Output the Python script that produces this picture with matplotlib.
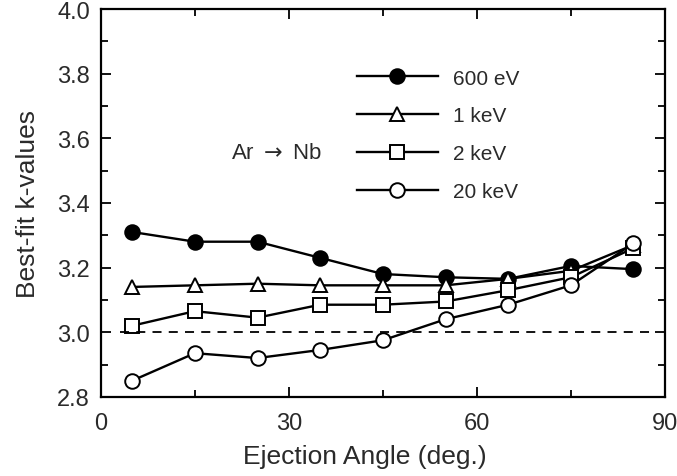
import matplotlib
matplotlib.use("Agg")
import matplotlib.pyplot as plt
from matplotlib.ticker import MultipleLocator

angles = [5, 15, 25, 35, 45, 55, 65, 75, 85]
k_600eV = [3.31, 3.28, 3.28, 3.23, 3.18, 3.17, 3.165, 3.205, 3.195]
k_1keV = [3.14, 3.145, 3.15, 3.145, 3.145, 3.145, 3.165, 3.19, 3.27]
k_2keV = [3.02, 3.065, 3.045, 3.085, 3.085, 3.095, 3.13, 3.17, 3.26]
k_20keV = [2.85, 2.935, 2.92, 2.945, 2.975, 3.04, 3.085, 3.145, 3.275]
series_labels = ["600 eV", "1 keV", "2 keV", "20 keV"]
ref_k = 3.0
ref_span = [3, 88]

plt.rcParams['font.family'] = ['Liberation Sans', 'DejaVu Sans']
fig = plt.figure(figsize=(6.77, 4.77), dpi=100)
ax = fig.add_axes([0.149, 0.166, 0.833, 0.813])

tc = '#2a2a2a'
styles = [
    dict(marker='o', mfc='black', mec='black'),
    dict(marker='^', mfc='white', mec='black'),
    dict(marker='s', mfc='white', mec='black'),
    dict(marker='o', mfc='white', mec='black'),
]
data = [k_600eV, k_1keV, k_2keV, k_20keV]
sizes = [10.5, 10.5, 9.5, 10.5]
for vals, st, lab, ms in zip(data, styles, series_labels, sizes):
    ax.plot(angles, vals, color='black', lw=1.7, ms=ms, mew=1.4, label=lab, **st)

ax.hlines(ref_k, ref_span[0], ref_span[1], color='black', lw=1.3,
          linestyles=[(0, (5, 4))])

ax.set_xlim(0, 90)
ax.set_ylim(2.8, 4.0)
ax.xaxis.set_major_locator(MultipleLocator(30))
ax.xaxis.set_minor_locator(MultipleLocator(15))
ax.yaxis.set_major_locator(MultipleLocator(0.2))
ax.yaxis.set_minor_locator(MultipleLocator(0.1))
ax.yaxis.set_major_formatter(plt.FuncFormatter(lambda v, p: f"{v:.1f}"))
ax.tick_params(which='both', direction='in', top=True, right=True,
               labelsize=17, labelcolor=tc, color='black', width=1.3)
ax.tick_params(which='major', length=7)
ax.tick_params(axis='x', which='major', pad=11)
ax.tick_params(axis='y', which='major', pad=8)
ax.tick_params(which='minor', length=5)
for s in ax.spines.values():
    s.set_linewidth(1.6)

ax.set_xlabel("Ejection Angle (deg.)", fontsize=19, color=tc, labelpad=7, x=0.468)
ax.set_ylabel("Best-fit k-values", fontsize=19, color=tc, labelpad=12)

ax.text(20.8, 3.555, r"Ar $\rightarrow$ Nb", fontsize=16, color=tc, va='center')

leg = ax.legend(loc='upper left', bbox_to_anchor=(0.44, 0.868), frameon=False,
                handlelength=3.85, handletextpad=0.72, labelspacing=0.91,
                fontsize=15, numpoints=1, borderaxespad=0)
for t in leg.get_texts():
    t.set_color(tc)

fig.savefig("out.png", dpi=100)
